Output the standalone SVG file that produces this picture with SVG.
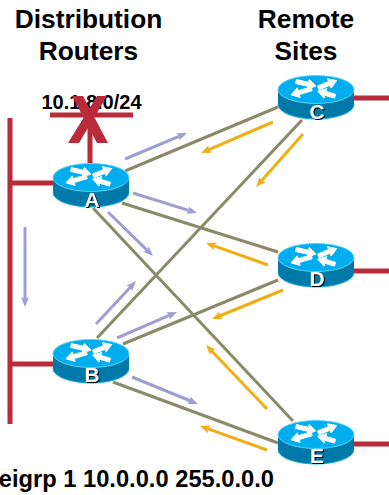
<svg xmlns="http://www.w3.org/2000/svg" width="389" height="495" viewBox="0 0 389 495">
<style>
text{font-family:"Liberation Sans",Arial,sans-serif;font-weight:bold;fill:#000}
.t{font-size:26.300px;text-anchor:middle}
.l{font-size:21px;text-anchor:middle;fill:#fff;filter:drop-shadow(1px 1px 0 #000)}
.red{stroke:#B72B3A;stroke-width:5;fill:none}
.link{stroke:#8A8A68;stroke-width:3;fill:none}
.b{stroke:#9E9ED2;stroke-width:3;fill:none;marker-end:url(#hb)}
.o{stroke:#EFAF14;stroke-width:3;fill:none;marker-end:url(#ho)}
</style>
<defs>
<marker id="hb" markerUnits="userSpaceOnUse" markerWidth="12" markerHeight="10" refX="2" refY="5" orient="auto"><path d="M0,1 L10,5 L0,9 L2,5z" fill="#9E9ED2"/></marker>
<marker id="ho" markerUnits="userSpaceOnUse" markerWidth="12" markerHeight="10" refX="2" refY="5" orient="auto"><path d="M0,1 L10,5 L0,9 L2,5z" fill="#EFAF14"/></marker>
<g id="router">
<path d="M-38,0 V15 A38,14.5 0 0 0 38,15 V0z" fill="#0079A8"/>
<path d="M-38,15 A38,14.500 0 0 0 38,15" fill="none" stroke="#19AEE0" stroke-width="1"/>
<ellipse cx="0" cy="0" rx="38" ry="14" fill="#00AEEF" stroke="#5FD0F5" stroke-width="1"/>
<g fill="#fff" stroke="#fff" stroke-width="1" stroke-linejoin="round">
<polygon points="-19.600,-9.950 -7.360,-7.200 -6.700,-10.100 0,-3.500 -8.900,-0.400 -8.240,-3.300 -20.400,-6.050"/>
<polygon points="1.560,-3.560 12.560,-7.900 11.450,-10.690 20.700,-9 15.150,-1.390 14.040,-4.180 3.040,0.160"/>
<polygon points="-4.860,-2.620 -17.860,1.160 -18.700,-1.720 -25,5.300 -15.900,7.900 -16.740,5 -3.740,1.220"/>
<polygon points="19.560,4.780 9.940,2 10.770,-0.880 1.700,1.700 7.990,8.720 8.820,5.840 18.440,8.620"/>
</g>
</g>
</defs>
<g id="labels">
<text class="t" x="88.500" y="28">Distribution</text>
<text class="t" x="88.500" y="60">Routers</text>
<text class="t" x="306" y="28">Remote</text>
<text class="t" x="306" y="60">Sites</text>
<text x="91.500" y="109" font-size="20" text-anchor="middle">10.1.8.0/24</text>
<text x="274" y="487" font-size="23.700" text-anchor="end">eigrp 1 10.0.0.0 255.0.0.0</text>
</g>
<g id="lan">
<path class="red" d="M10,118 V424 M10,183 H53 M10,364 H53 M90,165 V115 M50,115 H133 M354,98 H389 M354,271 H389 M354,444 H389"/>
<polygon fill="#B72B3A" points="72,96 83,96 108,143 97,143"/>
<polygon fill="#B72B3A" points="97,96 107,96 79,143 68,143"/>
</g>
<g id="connectors">
<path class="link" d="M125,171 L278,107"/>
<path class="link" d="M122,203 L278,252"/>
<path class="link" d="M93,208 L293,421"/>
<path class="link" d="M97,338 L302,120"/>
<path class="link" d="M123,344 L278,280"/>
<path class="link" d="M113,382 L278,443"/>
<path class="b" d="M125,159 L179.600,136.100"/>
<path class="b" d="M133,193 L189.400,210.600"/>
<path class="b" d="M108,212 L147.300,250.400"/>
<path class="b" d="M25,227 L25,299"/>
<path class="b" d="M96,324 L130.600,286.900"/>
<path class="b" d="M117,338 L169.700,315.200"/>
<path class="b" d="M132,377 L190.600,401"/>
<path class="o" d="M273,122 L208.300,149.800"/>
<path class="o" d="M303,134 L261.300,181"/>
<path class="o" d="M268,265 L213.500,245.700"/>
<path class="o" d="M283,290 L219.400,316"/>
<path class="o" d="M267,409 L211.500,350.800"/>
<path class="o" d="M267,450 L207.500,428.700"/>
</g>
<g id="node-A"><use href="#router" x="91" y="177.500"/><text class="l" x="92" y="206.500">A</text></g>
<g id="node-B"><use href="#router" x="91" y="353.500"/><text class="l" x="92" y="382">B</text></g>
<g id="node-C"><use href="#router" x="316" y="89.500"/><text class="l" x="317" y="118.500">C</text></g>
<g id="node-D"><use href="#router" x="316" y="257.500"/><text class="l" x="317" y="286">D</text></g>
<g id="node-E"><use href="#router" x="316" y="434.500"/><text class="l" x="317" y="463">E</text></g>
</svg>
